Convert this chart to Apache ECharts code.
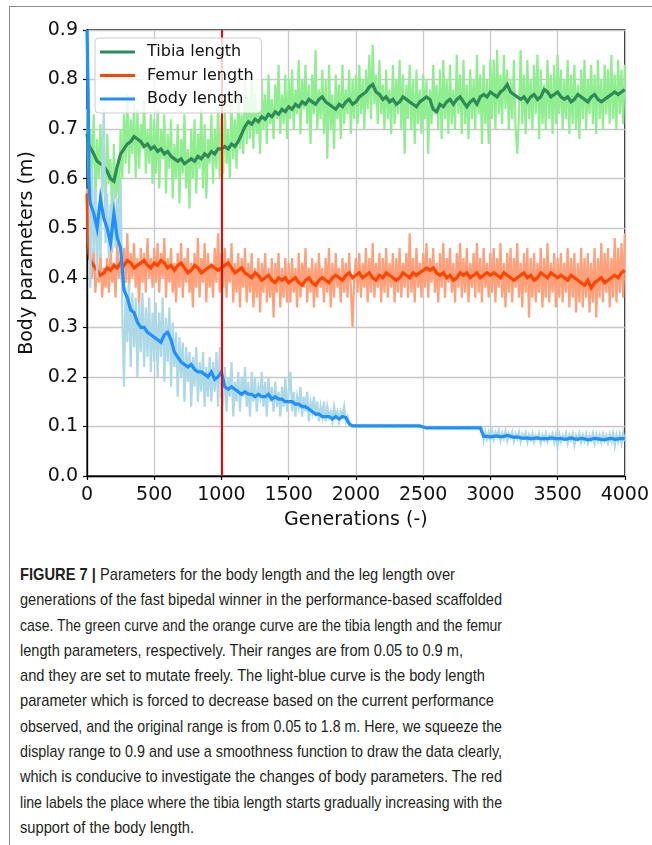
<!DOCTYPE html>
<html>
<head>
<meta charset="utf-8">
<script src="https://cdn.jsdelivr.net/npm/echarts@6/dist/echarts.min.js"></script>
<style>
  html, body { margin:0; padding:0; background:#fff; }
  #wrap { position:relative; width:652px; height:845px; overflow:hidden; }
  #frame { position:absolute; left:9px; top:6px; width:643px; height:839px;
           border-top:1px solid #8c8c8c; border-left:1px solid #8c8c8c; box-sizing:border-box; }
  #chart { position:absolute; left:0; top:0; width:652px; height:535px; }
  #caption { position:absolute; left:20px; top:562px; width:600px;
             font-family:"Liberation Sans",Arial,sans-serif;
             font-size:17px; line-height:25.3px; color:#231f20; }
  #caption .ln { display:block; height:25.3px; white-space:nowrap; }
  #caption .ln span { display:inline-block; white-space:nowrap; transform-origin:left center; }
  #caption b { font-weight:bold; }
</style>
</head>
<body>
<div id="wrap">
  <div id="frame"></div>
  <div id="chart"></div>
  <div id="caption">
    <div class="ln"><span><b>FIGURE 7 |</b> Parameters for the body length and the leg length over</span></div>
    <div class="ln"><span>generations of the fast bipedal winner in the performance-based scaffolded</span></div>
    <div class="ln"><span>case. The green curve and the orange curve are the tibia length and the femur</span></div>
    <div class="ln"><span>length parameters, respectively. Their ranges are from 0.05 to 0.9 m,</span></div>
    <div class="ln"><span>and they are set to mutate freely. The light-blue curve is the body length</span></div>
    <div class="ln"><span>parameter which is forced to decrease based on the current performance</span></div>
    <div class="ln"><span>observed, and the original range is from 0.05 to 1.8 m. Here, we squeeze the</span></div>
    <div class="ln"><span>display range to 0.9 and use a smoothness function to draw the data clearly,</span></div>
    <div class="ln"><span>which is conducive to investigate the changes of body parameters. The red</span></div>
    <div class="ln"><span>line labels the place where the tibia length starts gradually increasing with the</span></div>
    <div class="ln"><span>support of the body length.</span></div>
  </div>
</div>
<script>
// smoothed curves sampled at 0,5,10,15,20 then every 25 generations
const generations = [0, 5, 10, 15, 20];
for (let g = 25; g <= 4000; g += 25) generations.push(g);
// raw curves sampled every 12.5 generations
const rawGenerations = [];
for (let g = 0; g <= 4000; g += 12.5) rawGenerations.push(g);

const xTicks = [0, 500, 1000, 1500, 2000, 2500, 3000, 3500, 4000];
const yTicks = [0.0, 0.1, 0.2, 0.3, 0.4, 0.5, 0.6, 0.7, 0.8, 0.9];
const markerGeneration = 1000;

const tibiaRaw = [0.74,
  0.58,0.70,0.62,0.73,0.55,0.68,0.60,0.71,0.57,0.66,0.53,0.69,0.59,0.64,0.52,0.67,0.56,0.62,0.55,0.70,0.60,0.73,0.63,0.77,0.61,0.72,0.65,0.75,0.60,0.74,0.62,0.71,0.66,0.76,0.61,0.70,0.63,0.73,0.59,0.72,
  0.61,0.74,0.58,0.70,0.64,0.73,0.57,0.69,0.62,0.72,0.56,0.67,0.60,0.71,0.55,0.68,0.61,0.73,0.58,0.66,0.54,0.70,0.60,0.72,0.57,0.69,0.62,0.74,0.58,0.71,0.56,0.68,0.63,0.73,0.59,0.70,0.62,0.75,0.60,0.72,
  0.61,0.74,0.63,0.70,0.60,0.76,0.64,0.72,0.62,0.78,0.66,0.73,0.65,0.80,0.67,0.76,0.68,0.82,0.66,0.77,0.69,0.74,0.65,0.80,0.70,0.77,0.67,0.81,0.71,0.76,0.68,0.79,0.72,0.83,0.69,0.77,0.71,0.81,0.68,0.80,
  0.72,0.82,0.70,0.78,0.73,0.84,0.69,0.80,0.74,0.83,0.71,0.79,0.67,0.81,0.73,0.86,0.70,0.78,0.72,0.82,0.69,0.80,0.64,0.83,0.70,0.77,0.66,0.81,0.72,0.79,0.68,0.83,0.71,0.78,0.73,0.82,0.69,0.80,0.72,0.81,
  0.71,0.83,0.73,0.80,0.70,0.82,0.74,0.85,0.72,0.87,0.75,0.81,0.71,0.84,0.73,0.79,0.70,0.82,0.72,0.78,0.69,0.83,0.71,0.80,0.73,0.84,0.70,0.81,0.65,0.79,0.72,0.83,0.70,0.80,0.67,0.82,0.71,0.78,0.69,0.81,
  0.72,0.80,0.65,0.78,0.71,0.83,0.73,0.79,0.70,0.82,0.68,0.84,0.72,0.80,0.69,0.83,0.71,0.78,0.70,0.85,0.73,0.81,0.69,0.84,0.71,0.79,0.68,0.82,0.72,0.80,0.70,0.85,0.73,0.81,0.67,0.83,0.71,0.80,0.67,0.84,
  0.72,0.84,0.70,0.86,0.73,0.81,0.71,0.85,0.74,0.82,0.70,0.80,0.72,0.84,0.70,0.65,0.73,0.86,0.71,0.81,0.69,0.84,0.72,0.80,0.70,0.83,0.73,0.85,0.68,0.82,0.71,0.79,0.70,0.84,0.72,0.81,0.69,0.83,0.71,0.85,
  0.73,0.82,0.70,0.80,0.72,0.84,0.69,0.81,0.71,0.83,0.70,0.79,0.68,0.82,0.72,0.84,0.70,0.80,0.73,0.83,0.71,0.81,0.69,0.84,0.72,0.80,0.70,0.83,0.73,0.82,0.71,0.85,0.72,0.81,0.70,0.84,0.73,0.82,0.71,0.83
];
const tibiaSmooth = [
  0.69, 0.68, 0.67, 0.66, 0.665,
  0.665,0.65,0.635,0.63,0.625,0.615,0.60,0.595,0.625,0.65,0.66,0.67,0.675,0.685,0.68,0.675,0.665,0.67,0.66,0.665,
  0.655,0.66,0.65,0.655,0.645,0.64,0.635,0.64,0.63,0.635,0.64,0.635,0.645,0.64,0.65,0.645,0.655,0.65,0.66,0.66,
  0.665,0.66,0.67,0.665,0.675,0.69,0.705,0.715,0.71,0.72,0.715,0.725,0.72,0.73,0.725,0.735,0.73,0.74,0.735,0.745,
  0.74,0.75,0.745,0.755,0.75,0.76,0.755,0.75,0.76,0.765,0.755,0.75,0.745,0.74,0.75,0.745,0.755,0.76,0.75,0.755,
  0.765,0.77,0.775,0.785,0.79,0.775,0.77,0.76,0.765,0.755,0.76,0.75,0.755,0.765,0.76,0.755,0.75,0.745,0.755,0.76,
  0.765,0.76,0.74,0.735,0.75,0.745,0.755,0.76,0.75,0.76,0.765,0.755,0.745,0.755,0.76,0.75,0.765,0.77,0.765,0.775,
  0.77,0.765,0.775,0.78,0.79,0.775,0.77,0.765,0.76,0.765,0.755,0.765,0.77,0.76,0.765,0.78,0.775,0.765,0.77,0.775,
  0.765,0.76,0.765,0.755,0.76,0.77,0.765,0.76,0.755,0.765,0.77,0.76,0.755,0.76,0.765,0.77,0.775,0.77,0.775,0.78
];
const femurRaw = [0.58,
  0.49,0.44,0.40,0.46,0.37,0.43,0.39,0.45,0.36,0.42,0.38,0.44,0.37,0.46,0.39,0.43,0.36,0.47,0.40,0.44,0.38,0.46,0.39,0.49,0.37,0.45,0.40,0.47,0.38,0.44,0.34,0.46,0.39,0.45,0.37,0.48,0.40,0.44,0.38,0.46,
  0.39,0.47,0.37,0.45,0.40,0.48,0.36,0.44,0.39,0.46,0.37,0.43,0.35,0.45,0.38,0.47,0.36,0.44,0.39,0.46,0.37,0.43,0.34,0.45,0.38,0.48,0.36,0.44,0.39,0.47,0.35,0.45,0.38,0.43,0.36,0.46,0.39,0.49,0.37,0.45,
  0.38,0.46,0.36,0.44,0.39,0.47,0.35,0.43,0.37,0.45,0.34,0.44,0.38,0.46,0.35,0.43,0.37,0.45,0.34,0.42,0.36,0.44,0.33,0.43,0.37,0.45,0.35,0.42,0.36,0.44,0.32,0.43,0.37,0.45,0.34,0.42,0.36,0.44,0.35,0.43,
  0.35,0.44,0.37,0.42,0.34,0.45,0.36,0.43,0.38,0.46,0.35,0.42,0.37,0.44,0.34,0.43,0.36,0.45,0.38,0.42,0.35,0.44,0.37,0.46,0.34,0.43,0.36,0.45,0.38,0.42,0.35,0.44,0.37,0.43,0.36,0.45,0.38,0.30,0.40,0.44,
  0.37,0.45,0.36,0.43,0.38,0.46,0.35,0.44,0.37,0.47,0.36,0.43,0.38,0.45,0.35,0.44,0.37,0.46,0.36,0.43,0.38,0.45,0.35,0.44,0.37,0.46,0.36,0.43,0.38,0.45,0.36,0.49,0.37,0.44,0.35,0.46,0.38,0.43,0.36,0.45,
  0.38,0.47,0.36,0.44,0.39,0.46,0.37,0.43,0.35,0.45,0.38,0.47,0.36,0.44,0.39,0.46,0.37,0.43,0.35,0.45,0.38,0.47,0.36,0.44,0.37,0.46,0.35,0.43,0.38,0.45,0.36,0.47,0.37,0.44,0.35,0.46,0.38,0.43,0.36,0.45,
  0.37,0.46,0.35,0.44,0.38,0.47,0.36,0.43,0.34,0.45,0.37,0.46,0.35,0.44,0.38,0.47,0.36,0.43,0.34,0.45,0.37,0.46,0.32,0.44,0.36,0.45,0.35,0.43,0.37,0.46,0.34,0.44,0.36,0.47,0.35,0.43,0.37,0.45,0.34,0.44,
  0.36,0.45,0.35,0.43,0.37,0.46,0.34,0.44,0.36,0.45,0.33,0.43,0.35,0.46,0.34,0.44,0.36,0.45,0.33,0.43,0.35,0.46,0.32,0.44,0.36,0.47,0.35,0.45,0.37,0.46,0.34,0.44,0.36,0.48,0.35,0.46,0.37,0.47,0.36,0.49
];
const femurSmooth = [
  0.57, 0.52, 0.48, 0.45, 0.44,
  0.435,0.425,0.415,0.405,0.41,0.42,0.415,0.425,0.42,0.43,0.425,0.435,0.43,0.42,0.425,0.43,0.435,0.425,0.42,0.43,
  0.425,0.435,0.43,0.42,0.425,0.415,0.425,0.43,0.42,0.41,0.415,0.425,0.42,0.41,0.415,0.42,0.425,0.42,0.415,0.42,
  0.425,0.43,0.42,0.41,0.415,0.42,0.41,0.405,0.40,0.41,0.405,0.395,0.40,0.405,0.395,0.39,0.40,0.395,0.40,0.39,
  0.395,0.40,0.39,0.385,0.395,0.40,0.39,0.385,0.395,0.40,0.395,0.39,0.40,0.405,0.40,0.395,0.405,0.41,0.40,0.405,
  0.41,0.40,0.405,0.41,0.40,0.395,0.405,0.40,0.41,0.405,0.40,0.395,0.40,0.41,0.405,0.40,0.41,0.405,0.41,0.415,
  0.42,0.415,0.42,0.41,0.405,0.41,0.40,0.405,0.395,0.40,0.41,0.405,0.41,0.40,0.405,0.41,0.40,0.405,0.41,0.405,
  0.41,0.405,0.40,0.41,0.405,0.40,0.395,0.40,0.405,0.41,0.40,0.405,0.395,0.40,0.41,0.405,0.40,0.41,0.405,0.40,
  0.405,0.40,0.395,0.405,0.40,0.395,0.39,0.385,0.395,0.38,0.39,0.395,0.40,0.39,0.395,0.40,0.405,0.40,0.41,0.415
];
const bodyRaw = [0.90,
  0.75,0.38,0.62,0.45,0.58,0.40,0.55,0.44,0.60,0.74,0.47,0.57,0.44,0.55,0.45,0.58,0.46,0.56,0.47,0.60,0.33,0.18,0.38,0.27,0.39,0.22,0.37,0.26,0.36,0.20,0.35,0.25,0.37,0.22,0.34,0.24,0.36,0.21,0.33,0.23,
  0.35,0.20,0.33,0.24,0.36,0.19,0.32,0.23,0.34,0.18,0.31,0.22,0.29,0.16,0.28,0.20,0.27,0.15,0.26,0.19,0.25,0.14,0.24,0.18,0.26,0.15,0.23,0.17,0.25,0.14,0.22,0.16,0.24,0.15,0.23,0.17,0.25,0.14,0.26,0.16,
  0.15,0.22,0.13,0.20,0.16,0.23,0.12,0.19,0.15,0.21,0.13,0.20,0.16,0.22,0.14,0.19,0.12,0.21,0.15,0.20,0.13,0.18,0.16,0.21,0.14,0.19,0.12,0.20,0.15,0.18,0.13,0.19,0.14,0.17,0.12,0.18,0.14,0.20,0.13,0.17,
  0.21,0.13,0.17,0.12,0.16,0.14,0.18,0.12,0.16,0.13,0.17,0.11,0.15,0.13,0.16,0.12,0.15,0.11,0.14,0.12,0.15,0.11,0.14,0.12,0.13,0.11,0.14,0.12,0.13,0.11,0.13,0.12,0.14,0.11,0.12,0.11,0.101,0.101,0.102,0.100,
  0.101,0.102,0.100,0.101,0.102,0.101,0.100,0.102,0.101,0.100,0.101,0.102,0.100,0.101,0.102,0.101,0.100,0.102,0.101,0.100,0.101,0.102,0.100,0.101,0.102,0.101,0.100,0.102,0.101,0.100,0.101,0.102,0.100,0.101,0.102,0.101,0.100,0.101,0.100,0.098,
  0.097,0.098,0.096,0.097,0.099,0.096,0.097,0.098,0.096,0.097,0.098,0.096,0.097,0.098,0.096,0.097,0.099,0.096,0.097,0.098,0.096,0.097,0.098,0.096,0.097,0.098,0.096,0.097,0.098,0.096,0.097,0.098,0.096,0.097,0.096,0.072,0.090,0.075,0.088,0.073,
  0.091,0.074,0.088,0.079,0.092,0.072,0.087,0.076,0.090,0.071,0.086,0.078,0.089,0.070,0.085,0.075,0.088,0.069,0.084,0.077,0.087,0.068,0.083,0.074,0.086,0.069,0.082,0.076,0.085,0.067,0.083,0.073,0.086,0.070,0.082,0.075,0.085,0.068,0.083,0.060,
  0.084,0.069,0.082,0.075,0.086,0.066,0.083,0.072,0.085,0.063,0.082,0.074,0.086,0.068,0.083,0.071,0.085,0.067,0.082,0.073,0.086,0.066,0.084,0.070,0.083,0.068,0.085,0.072,0.082,0.067,0.084,0.070,0.086,0.061,0.083,0.069,0.085,0.066,0.087,0.070
];
const bodySmooth = [
  0.90, 0.83, 0.74, 0.60, 0.56,
  0.55,0.53,0.50,0.56,0.52,0.50,0.47,0.53,0.48,0.46,0.375,0.36,0.335,0.33,0.31,0.30,0.30,0.29,0.285,0.28,
  0.275,0.27,0.285,0.29,0.275,0.25,0.24,0.23,0.225,0.22,0.225,0.215,0.21,0.21,0.205,0.20,0.21,0.195,0.20,0.21,
  0.18,0.175,0.18,0.175,0.17,0.165,0.17,0.165,0.165,0.16,0.165,0.16,0.16,0.165,0.155,0.16,0.155,0.155,0.15,0.15,
  0.15,0.145,0.145,0.14,0.14,0.135,0.13,0.125,0.125,0.12,0.12,0.12,0.115,0.12,0.115,0.12,0.118,0.105,0.101,0.101,
  0.101,0.101,0.101,0.101,0.101,0.101,0.101,0.101,0.101,0.101,0.101,0.101,0.101,0.101,0.101,0.101,0.101,0.101,0.101,0.099,
  0.097,0.097,0.097,0.097,0.097,0.097,0.097,0.097,0.097,0.097,0.097,0.097,0.097,0.097,0.097,0.097,0.097,0.080,0.080,0.079,
  0.080,0.081,0.079,0.080,0.082,0.080,0.078,0.079,0.077,0.076,0.077,0.075,0.076,0.077,0.075,0.076,0.075,0.077,0.076,0.075,
  0.076,0.074,0.075,0.077,0.075,0.074,0.076,0.075,0.073,0.074,0.076,0.075,0.074,0.073,0.075,0.076,0.074,0.075,0.076,0.075
];

function pairs(xs, arr) { return xs.map((g, i) => [g, arr[i]]); }

const FONT = 'DejaVu Sans';
function lineSeries(name, xs, data, color, width, extra) {
  return Object.assign({
    name: name, type: 'line', data: pairs(xs, data), symbol: 'none', showSymbol: false,
    lineStyle: { color: color, width: width, join: 'miter' }, itemStyle: { color: color },
    animation: false, silent: true, clip: true
  }, extra || {});
}

const chart = echarts.init(document.getElementById('chart'), null, { renderer: 'canvas' });
chart.setOption({
  animation: false,
  backgroundColor: 'transparent',
  grid: { left: 87, top: 30, width: 538, height: 446, show: true, borderColor: '#000', borderWidth: 1.3, backgroundColor: 'transparent' },
  legend: {
    data: ['Tibia length', 'Femur length', 'Body length'],
    orient: 'vertical', left: 95, top: 38, z: 20,
    padding: [6, 8, 6, 5], itemGap: 7.5, itemWidth: 35, itemHeight: 3, icon: 'rect',
    backgroundColor: 'rgba(255,255,255,0.8)', borderColor: '#cccccc', borderWidth: 1, borderRadius: 4,
    textStyle: { fontFamily: FONT, fontSize: 16, color: '#111', lineHeight: 16, padding: [0, 0, 0, 7] },
    selectedMode: false
  },
  xAxis: {
    type: 'value', min: 0, max: 4000, interval: 500,
    name: 'Generations (-)', nameLocation: 'middle', nameGap: 35,
    nameTextStyle: { fontFamily: FONT, fontSize: 19, color: '#111' },
    axisLine: { show: true, onZero: false, lineStyle: { color: '#000', width: 1.3 } },
    axisTick: { show: true, length: 4, lineStyle: { color: '#000', width: 1.2 } },
    axisLabel: { fontFamily: FONT, fontSize: 19, color: '#111', margin: 10,
                 formatter: v => xTicks.includes(v) ? String(v) : '' },
    splitLine: { show: true, lineStyle: { color: '#c8c8c8', width: 1.3 } }
  },
  yAxis: {
    type: 'value', min: 0, max: 0.9, interval: 0.1,
    name: 'Body parameters (m)', nameLocation: 'middle', nameGap: 44, nameRotate: 90,
    nameTextStyle: { fontFamily: FONT, fontSize: 19, color: '#111' },
    axisLine: { show: true, lineStyle: { color: '#000', width: 1.3 } },
    axisTick: { show: true, length: 4, lineStyle: { color: '#000', width: 1.2 } },
    axisLabel: { fontFamily: FONT, fontSize: 19, color: '#111', margin: 9,
                 formatter: v => yTicks.find(t => Math.abs(t - v) < 1e-6).toFixed(1) },
    splitLine: { show: true, lineStyle: { color: '#c8c8c8', width: 1.3 } }
  },
  series: [
    lineSeries('Tibia raw', rawGenerations, tibiaRaw, '#90ee90', 2.2),
    lineSeries('Tibia length', generations, tibiaSmooth, '#2e8b57', 3.2),
    lineSeries('Femur raw', rawGenerations, femurRaw, '#ffa07a', 2.2),
    lineSeries('Femur length', generations, femurSmooth, '#ff4500', 3.2),
    lineSeries('Body raw', rawGenerations, bodyRaw, '#add8e6', 2.2),
    lineSeries('Body length', generations, bodySmooth, '#1e90ff', 3.2, {
      markLine: {
        silent: true, symbol: 'none', animation: false, z: 5,
        label: { show: false },
        lineStyle: { color: '#ff0000', width: 2, type: 'solid' },
        data: [{ xAxis: markerGeneration }]
      }
    })
  ]
});

// condense each caption line to the width it has in the printed figure
const lineWidths = [435, 482, 482, 443, 465, 474, 482, 482, 482, 482, 174];
document.querySelectorAll('#caption .ln span').forEach((el, i) => {
  const w = el.getBoundingClientRect().width;
  el.style.transform = 'scaleX(' + (lineWidths[i] / w) + ')';
});
</script>
</body>
</html>
